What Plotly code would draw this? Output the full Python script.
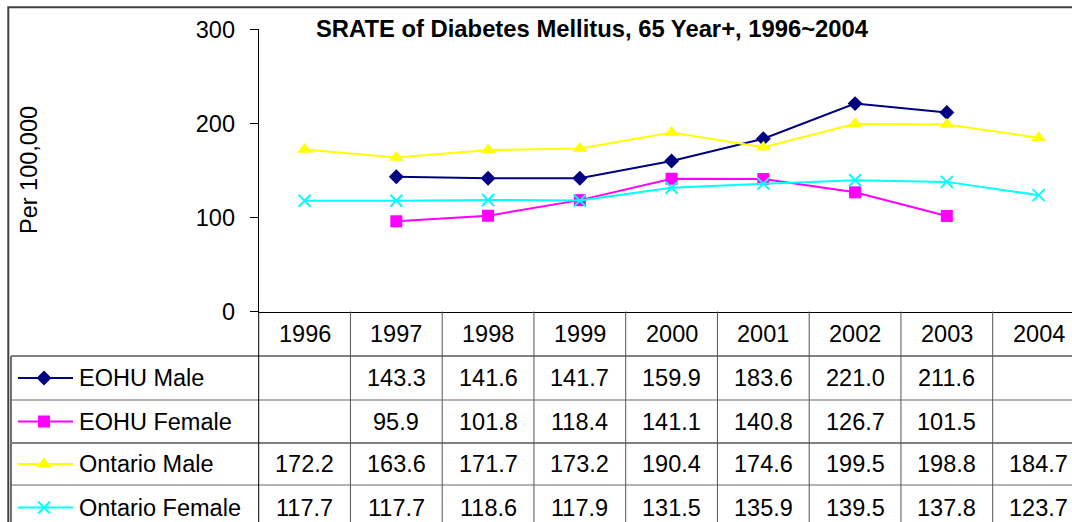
import plotly.graph_objects as go

# ---------------- data ----------------
years = ["1996", "1997", "1998", "1999", "2000", "2001", "2002", "2003", "2004"]
series_names = ["EOHU Male", "EOHU Female", "Ontario Male", "Ontario Female"]
eohu_male = [None, 143.3, 141.6, 141.7, 159.9, 183.6, 221.0, 211.6, None]
eohu_female = [None, 95.9, 101.8, 118.4, 141.1, 140.8, 126.7, 101.5, None]
ontario_male = [172.2, 163.6, 171.7, 173.2, 190.4, 174.6, 199.5, 198.8, 184.7]
ontario_female = [117.7, 117.7, 118.6, 117.9, 131.5, 135.9, 139.5, 137.8, 123.7]
y_ticks = [0, 100, 200, 300]
title = "SRATE of Diabetes Mellitus, 65 Year+, 1996~2004"
y_title = "Per 100,000"

# ---------------- styles ----------------
W, H = 1072, 522
FONT = "Arial, Liberation Sans, sans-serif"
FS = 23.5
FS_TITLE = 23.8
styles = [
    dict(color="#000080", symbol="diamond", size=11.5, lw=0),
    dict(color="#FF00FF", symbol="square", size=12, lw=0),
    dict(color="#FFFF00", symbol="triangle-up", size=13, lw=0),
    dict(color="#00FFFF", symbol="x-thin", size=12, lw=2),
]
all_series = [eohu_male, eohu_female, ontario_male, ontario_female]

# layout geometry (pixels)
axis_left = 258.7
col_w = 91.75
y_bottom_px, y_top_px = 311.5, 29.3
row_edges = [311.5, 356, 400, 443, 485, 530]
grid_col = "#555555"


def py(p):
    return 1 - p / H


def px(p):
    return p / W


x_idx = list(range(len(years)))
fig = go.Figure()

for name, vals, st in zip(series_names, all_series, styles):
    fig.add_trace(go.Scatter(
        x=x_idx, y=vals, name=name, mode="lines+markers",
        line=dict(color=st["color"], width=2),
        marker=dict(symbol=st["symbol"], size=st["size"], color=st["color"],
                    line=dict(width=st["lw"], color=st["color"])),
        connectgaps=False, showlegend=False, cliponaxis=False,
        xaxis="x", yaxis="y",
    ))

# legend samples in the table (separate full-page pixel axis)
for r, (name, st) in enumerate(zip(series_names, styles)):
    yc = (row_edges[r + 1] + row_edges[r + 2]) / 2
    fig.add_trace(go.Scatter(
        x=[18, 73], y=[yc, yc], mode="lines",
        line=dict(color=st["color"], width=2), showlegend=False,
        xaxis="x2", yaxis="y2", hoverinfo="skip"))
    fig.add_trace(go.Scatter(
        x=[44], y=[yc], mode="markers",
        marker=dict(symbol=st["symbol"], size=st["size"], color=st["color"],
                    line=dict(width=st["lw"], color=st["color"])),
        showlegend=False, xaxis="x2", yaxis="y2", hoverinfo="skip"))

x_end = -0.5 + (W - axis_left) / col_w
shapes = []
annotations = []

# outer chart border
shapes.append(dict(type="rect", xref="paper", yref="paper",
                   x0=px(8.3), x1=px(W + 20), y0=py(H + 20), y1=py(7.3),
                   line=dict(color="#404040", width=2)))
# table left border
shapes.append(dict(type="line", xref="paper", yref="paper",
                   x0=px(11), x1=px(11), y0=py(H + 5), y1=py(356),
                   line=dict(color="#404040", width=1.5)))
# horizontal table lines
for i, e in enumerate(row_edges[1:-1]):
    shapes.append(dict(type="line", xref="paper", yref="paper",
                       x0=px(11), x1=1, y0=py(e), y1=py(e),
                       line=dict(color="#808080" if i in (0, 2) else "#666666",
                                 width=2 if i in (0, 2) else 1)))
# vertical table lines between year columns
for k in range(1, len(years) + 1):
    shapes.append(dict(type="line", xref="x", yref="paper",
                       x0=k - 0.5, x1=k - 0.5, y0=py(H + 5), y1=py(y_bottom_px),
                       line=dict(color=grid_col, width=1)))
# axis line continues down through table
shapes.append(dict(type="line", xref="paper", yref="paper",
                   x0=px(axis_left), x1=px(axis_left), y0=py(H + 5), y1=py(y_bottom_px),
                   line=dict(color="#000000", width=1)))

# header year labels
hc = (row_edges[0] + row_edges[1]) / 2
for i, yr in enumerate(years):
    annotations.append(dict(x=i, y=py(hc), xref="x", yref="paper", text=yr,
                            showarrow=False, xanchor="center", yanchor="middle",
                            font=dict(family=FONT, size=FS, color="black")))
# table values and legend text
for r, (name, vals) in enumerate(zip(series_names, all_series)):
    yc = (row_edges[r + 1] + row_edges[r + 2]) / 2
    annotations.append(dict(x=px(77), y=py(yc), xref="paper", yref="paper", text=name,
                            showarrow=False, xanchor="left", yanchor="middle",
                            font=dict(family=FONT, size=FS, color="black")))
    for i, v in enumerate(vals):
        if v is None:
            continue
        annotations.append(dict(x=i, y=py(yc), xref="x", yref="paper", text=f"{v:.1f}",
                                showarrow=False, xanchor="center", yanchor="middle",
                                font=dict(family=FONT, size=FS, color="black")))
# title
annotations.append(dict(x=px(593), y=py(28), xref="paper", yref="paper",
                        text=f"<b>{title}</b>", showarrow=False,
                        xanchor="center", yanchor="middle",
                        font=dict(family=FONT, size=FS_TITLE, color="black")))
# y title
annotations.append(dict(x=px(29), y=py(170), xref="paper", yref="paper",
                        text=y_title, textangle=-90, showarrow=False,
                        xanchor="center", yanchor="middle",
                        font=dict(family=FONT, size=FS, color="black")))

fig.update_layout(
    width=W, height=H, autosize=False,
    margin=dict(l=0, r=0, t=0, b=0, pad=0, autoexpand=False),
    paper_bgcolor="white", plot_bgcolor="rgba(0,0,0,0)",
    showlegend=False,
    xaxis=dict(domain=[px(axis_left), 1], range=[-0.5, x_end],
               showgrid=False, zeroline=False, showticklabels=False,
               ticks="", showline=True, linecolor="black", linewidth=1,
               fixedrange=True, anchor="y", automargin=False),
    yaxis=dict(domain=[py(y_bottom_px), py(y_top_px)], range=[0, 300],
               tickvals=y_ticks, ticks="outside", ticklen=8, tickcolor="black",
               showgrid=False, zeroline=False, showline=True,
               linecolor="black", linewidth=1,
               tickfont=dict(family=FONT, size=FS, color="black"),
               ticklabelstandoff=10, fixedrange=True, anchor="x",
               automargin=False),
    xaxis2=dict(domain=[0, 1], range=[0, W], visible=False, anchor="y2",
                fixedrange=True, automargin=False),
    yaxis2=dict(domain=[0, 1], range=[H, 0], visible=False, anchor="x2",
                fixedrange=True, automargin=False),
    shapes=shapes,
    annotations=annotations,
)

fig.write_html(
    "out.html",
    config={"displayModeBar": False},
    post_script="document.body.style.margin='0';document.body.style.overflow='hidden';",
)
